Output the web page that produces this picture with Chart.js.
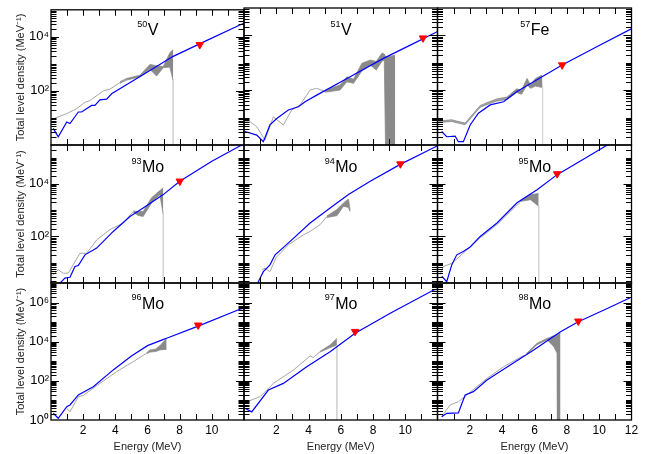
<!DOCTYPE html>
<html><head><meta charset="utf-8">
<script src="https://cdn.jsdelivr.net/npm/chart.js@4.4.1/dist/chart.umd.min.js"></script>
<style>
html,body{margin:0;padding:0;background:#fff;}
#wrap{position:relative;width:657px;height:454px;overflow:hidden;background:#fff;}
canvas{position:absolute;left:0;top:0;}
</style></head><body><div id="wrap"></div>
<script>
// ---------------- data (energies in MeV, densities in MeV^-1) ----------------
// 50V
const V50_modelE = [0.14, 0.45, 0.98, 1.18, 1.70, 1.90, 2.53, 2.73, 3.04, 3.46, 3.77, 5.1, 6.0, 7.6, 9.5, 11.74, 12];
const V50_model  = [4.1, 2.0, 7.1, 6.2, 16.6, 16.6, 29, 29, 47, 50, 78, 240, 500, 1900, 6500, 27500, 32000];
const V50_thinE  = [0.14, 0.98, 1.6, 2.11, 2.42, 3.25, 3.67, 4.29, 4.7];
const V50_thin   = [9.3, 14.5, 22, 38, 44, 100, 117, 204, 270];
const V50_bandE  = [4.29, 4.7, 5.53, 6.15, 6.56, 6.98, 7.39, 7.6];
const V50_bandHi = [219, 288, 380, 955, 851, 794, 2570, 3390];
const V50_bandLo = [191, 251, 331, 631, 355, 724, 759, 234];
const V50_sn     = [9.25, 5100];
// 51V
const V51_modelE = [0.06, 0.79, 1.2, 1.61, 2.03, 2.75, 3.37, 3.79, 4.51, 6.5, 8.65, 10.5, 11.97, 12];
const V51_model  = [3.1, 2.3, 1.32, 5.4, 9.3, 19, 25, 38, 66, 290, 1450, 5000, 13500, 13800];
const V51_thinE  = [0.06, 0.37, 0.79, 1.3, 1.82, 2.44, 2.96, 3.48, 4.1, 4.51, 5.03];
const V51_thin   = [7.1, 7.1, 4.7, 1.5, 10.7, 5.4, 19, 29, 102, 117, 89];
const V51_bandE  = [5.03, 5.34, 5.96, 6.38, 6.79, 7.31, 7.83, 8.2, 8.55, 8.7, 8.8, 9.38];
const V51_bandHi = [93, 117, 155, 309, 251, 955, 1260, 1120, 2240, 2100, 1600, 1900];
const V51_bandLo = [85, 89, 102, 204, 178, 501, 832, 550, 1120, 1260, 0.1, 0.1];
const V51_sn     = [11.1, 8000];
// 57Fe
const Fe57_modelE = [0.26, 0.57, 1.09, 1.29, 1.6, 2.02, 2.53, 3.26, 4.09, 4.92, 6.47, 7.71, 10, 12.06];
const Fe57_model  = [3.1, 2.0, 2.1, 1.32, 1.32, 5.4, 14.5, 29, 38, 89, 309, 832, 4270, 18200];
const Fe57_thinE  = [0.05, 0.88, 1.71, 2.64, 3.68, 4.3];
const Fe57_thin   = [7.1, 7.8, 5.9, 26, 44, 50];
const Fe57_bandE  = [0.05, 0.88, 1.71, 2.64, 3.2, 3.68, 4.3, 4.9, 5.2, 5.54, 5.75, 6.06, 6.47, 6.5];
const Fe57_bandHi = [7.6, 8.3, 6.3, 27.5, 38, 48, 56, 112, 100, 269, 158, 269, 355, 355];
const Fe57_bandLo = [6.6, 7.2, 5.5, 24, 32, 40, 46, 83, 71, 158, 117, 141, 126, 126];
const Fe57_sn     = [7.71, 830];
// 93Mo
const Mo93_modelE = [0.4, 0.56, 0.87, 1.18, 1.49, 1.70, 2.11, 2.84, 3.87, 4.91, 5.73, 6.98, 8.01, 10, 11.74, 12];
const Mo93_model  = [1.0, 1.7, 2.6, 2.8, 7.2, 7.9, 20, 36, 155, 575, 1200, 3900, 12600, 72000, 275000, 300000];
const Mo93_thinE  = [0.14, 0.45, 0.76, 1.07, 1.8, 2.22, 2.84, 3.66, 4.49, 5.11];
const Mo93_thin   = [3.5, 5.4, 4.0, 4.0, 23, 23, 74, 182, 324, 890];
const Mo93_bandE  = [5.11, 5.42, 5.73, 6.25, 6.77, 6.98];
const Mo93_bandHi = [933, 891, 891, 2950, 5600, 7100];
const Mo93_bandLo = [832, 631, 575, 1900, 3900, 676];
const Mo93_sn     = [8.01, 12600];
// 94Mo
const Mo94_modelE = [0.8, 0.89, 1.2, 1.61, 1.93, 2.86, 4.1, 5.34, 6.48, 7.83, 9.69, 11.97, 12];
const Mo94_model  = [1.26, 1.9, 4.6, 8.3, 20, 65, 324, 1200, 3900, 12600, 55000, 275000, 280000];
const Mo94_thinE  = [1.1, 1.3, 1.61, 2.0, 2.75, 3.68, 4.1, 4.72, 5.14];
const Mo94_thin   = [5.4, 6.2, 4.6, 16, 48, 115, 155, 282, 575];
const Mo94_bandE  = [5.14, 5.76, 6.17, 6.48, 6.58];
const Mo94_bandHi = [603, 1050, 1860, 2630, 1000];
const Mo94_bandLo = [525, 617, 1410, 1260, 891];
const Mo94_sn     = [9.7, 57000];
// 95Mo
const Mo95_modelE = [0.26, 0.57, 0.88, 1.19, 1.6, 2.02, 2.64, 3.68, 4.92, 6.16, 7.4, 9, 10.4, 12];
const Mo95_model  = [3.1, 1.9, 8.3, 20, 27, 40, 100, 324, 1900, 6000, 22400, 85000, 275000, 930000];
const Mo95_thinE  = [0.16, 0.36, 0.88, 1.2, 1.71, 2.64, 3.68, 4.5, 5.12];
const Mo95_thin   = [3.5, 7.2, 9.5, 14, 27, 89, 282, 891, 2000];
const Mo95_bandE  = [5.12, 5.75, 6.26];
const Mo95_bandHi = [2340, 3900, 4270];
const Mo95_bandLo = [2140, 2510, 1410];
const Mo95_sn     = [7.4, 24000];
// 96Mo
const Mo96_modelE = [0.14, 0.45, 0.98, 1.18, 1.7, 2.63, 3.87, 5.0, 6.0, 7.0, 7.19, 9.15, 11.74, 12];
const Mo96_model  = [2.2, 1.23, 4.8, 5.9, 19, 50, 363, 1860, 6300, 13200, 15100, 63000, 457000, 525000];
const Mo96_thinE  = [0.98, 1.18, 1.7, 2.0, 3.04, 4.08, 5.11, 5.94];
const Mo96_thin   = [4.0, 2.6, 15.5, 17.8, 74, 295, 955, 2570];
const Mo96_bandE  = [5.94, 6.15, 6.5, 6.77, 7.19];
const Mo96_bandHi = [2690, 3800, 4170, 6310, 14800];
const Mo96_bandLo = [2450, 2950, 3160, 3800, 4170];
const Mo96_sn     = [9.15, 70000];
// 97Mo
const Mo97_modelE = [0.06, 0.48, 1.51, 2.44, 3.89, 5.34, 6.89, 9.07, 11.76, 12];
const Mo97_model  = [4.0, 2.6, 34, 74, 525, 3090, 26900, 282000, 4370000, 4800000];
const Mo97_thinE  = [0.17, 1.0, 1.82, 3.06, 4.1, 4.3, 4.72];
const Mo97_thin   = [8.5, 15.5, 74, 355, 1860, 1580, 3090];
const Mo97_bandE  = [4.72, 5.34, 5.76];
const Mo97_bandHi = [3240, 6760, 14800];
const Mo97_bandLo = [2950, 5010, 6760];
const Mo97_sn     = [6.89, 33000];
// 98Mo
const Mo98_modelE = [0.26, 0.57, 1.29, 1.71, 2.22, 3.06, 4.5, 5.95, 7.61, 8.71, 10.5, 12.06];
const Mo98_model  = [1.48, 2.2, 2.3, 19, 28, 110, 646, 3800, 32400, 105000, 500000, 2000000];
const Mo98_thinE  = [0.26, 0.78, 1.29, 1.71, 3.06, 4.09, 5.33];
const Mo98_thin   = [1.48, 5.9, 8.5, 16, 135, 525, 2000];
const Mo98_bandE  = [5.5, 6.16, 6.78, 7.19, 7.4, 7.42, 7.61];
const Mo98_bandHi = [2510, 8300, 14800, 20000, 24000, 24500, 26900];
const Mo98_bandLo = [2240, 7080, 12600, 5620, 2570, 0.1, 0.1];
const Mo98_sn     = [8.71, 112000];

// axis ranges / tick labels
const ROW_YMIN = [1, 1.7, 1];
const ROW_YMAX = [1e5, 3e5, 1e7];
const ROW_YTICKS = [[100, 1e4], [100, 1e4], [1, 100, 1e4, 1e6]];
const COL_XTICKS = [[2, 4, 6, 8, 10], [2, 4, 6, 8, 10], [2, 4, 6, 8, 10, 12]];
const X_MIN = 0, X_MAX = 12;

const PANELS = [
  {mass:'50', sym:'V',  m:[V50_modelE,V50_model],  t:[V50_thinE,V50_thin],  b:[V50_bandE,V50_bandHi,V50_bandLo],  sn:V50_sn,  vline:true},
  {mass:'51', sym:'V',  m:[V51_modelE,V51_model],  t:[V51_thinE,V51_thin],  b:[V51_bandE,V51_bandHi,V51_bandLo],  sn:V51_sn,  vline:false},
  {mass:'57', sym:'Fe', m:[Fe57_modelE,Fe57_model],t:[Fe57_thinE,Fe57_thin],b:[Fe57_bandE,Fe57_bandHi,Fe57_bandLo],sn:Fe57_sn, vline:true},
  {mass:'93', sym:'Mo', m:[Mo93_modelE,Mo93_model],t:[Mo93_thinE,Mo93_thin],b:[Mo93_bandE,Mo93_bandHi,Mo93_bandLo],sn:Mo93_sn, vline:true},
  {mass:'94', sym:'Mo', m:[Mo94_modelE,Mo94_model],t:[Mo94_thinE,Mo94_thin],b:[Mo94_bandE,Mo94_bandHi,Mo94_bandLo],sn:Mo94_sn, vline:false},
  {mass:'95', sym:'Mo', m:[Mo95_modelE,Mo95_model],t:[Mo95_thinE,Mo95_thin],b:[Mo95_bandE,Mo95_bandHi,Mo95_bandLo],sn:Mo95_sn, vline:true},
  {mass:'96', sym:'Mo', m:[Mo96_modelE,Mo96_model],t:[Mo96_thinE,Mo96_thin],b:[Mo96_bandE,Mo96_bandHi,Mo96_bandLo],sn:Mo96_sn, vline:false},
  {mass:'97', sym:'Mo', m:[Mo97_modelE,Mo97_model],t:[Mo97_thinE,Mo97_thin],b:[Mo97_bandE,Mo97_bandHi,Mo97_bandLo],sn:Mo97_sn, vline:true},
  {mass:'98', sym:'Mo', m:[Mo98_modelE,Mo98_model],t:[Mo98_thinE,Mo98_thin],b:[Mo98_bandE,Mo98_bandHi,Mo98_bandLo],sn:Mo98_sn, vline:false},
];

// ---------------- layout & style ----------------
const W = 657, H = 454;
const X_EDGES = [51, 244, 437.5, 631.5];
const Y_EDGES = [8, 145, 283, 420];
const LABEL_BASE = [35, 172, 308.5];
const FONT = '"Liberation Sans", Arial, Helvetica, sans-serif';
Chart.defaults.font.family = FONT;
Chart.defaults.color = '#000';

const SUP = {'0':'⁰','1':'¹','2':'²','3':'³','4':'⁴','5':'⁵','6':'⁶','7':'⁷','8':'⁸','9':'⁹','-':'⁻'};
const sup = s => String(s).split('').map(ch => SUP[ch] || ch).join('');
const zip = (xs, ys) => xs.map((x, i) => ({x, y: ys[i]}));

const framePlugin = {
  id: 'frame',
  afterDraw(chart, args, opts) {
    const {ctx, chartArea: a} = chart;
    const x = chart.scales.x, y = chart.scales.y;
    ctx.save();
    ctx.strokeStyle = '#000';
    ctx.lineWidth = 1;
    ctx.beginPath();
    for (let v = X_MIN + 1; v < X_MAX; v++) {
      const px = Math.round(x.getPixelForValue(v)) + 0.5;
      ctx.moveTo(px, a.bottom); ctx.lineTo(px, a.bottom - 6);
      ctx.moveTo(px, a.top); ctx.lineTo(px, a.top + 6);
    }
    const lo = Math.floor(Math.log10(y.min)), hi = Math.ceil(Math.log10(y.max));
    for (let n = lo; n <= hi; n++) {
      for (let m = 1; m <= 9; m++) {
        const v = m * Math.pow(10, n);
        if (v <= y.min * 1.001 || v >= y.max * 0.999) continue;
        const py = Math.round(y.getPixelForValue(v)) + 0.5;
        const len = (m === 1 && n % 2 === 0) ? 8 : 5.5;
        ctx.moveTo(a.left, py); ctx.lineTo(a.left + len, py);
        ctx.moveTo(a.right, py); ctx.lineTo(a.right - len, py);
      }
    }
    ctx.stroke();
    ctx.lineWidth = 1.3;
    ctx.strokeRect(a.left, a.top, a.right - a.left, a.bottom - a.top);
    // nucleus label
    ctx.fillStyle = '#000';
    ctx.textAlign = 'left';
    ctx.textBaseline = 'alphabetic';
    ctx.font = '9px ' + FONT;
    const ws = ctx.measureText(opts.mass).width;
    ctx.font = '16px ' + FONT;
    const wm = ctx.measureText(opts.sym).width;
    const x0 = (a.left + a.right) / 2 - (ws + wm) / 2;
    ctx.font = '9px ' + FONT;
    ctx.fillText(opts.mass, x0, opts.base - 8.5);
    ctx.font = '16px ' + FONT;
    ctx.fillText(opts.sym, x0 + ws + 0.5, opts.base);
    ctx.restore();
  }
};

const wrap = document.getElementById('wrap');
PANELS.forEach((P, i) => {
  const r = Math.floor(i / 3), c = i % 3;
  const cv = document.createElement('canvas');
  cv.width = W; cv.height = H;
  cv.style.width = W + 'px'; cv.style.height = H + 'px';
  wrap.appendChild(cv);
  const ymin = ROW_YMIN[r], ymax = ROW_YMAX[r];
  const [bE, bHi, bLo] = P.b;
  const datasets = [
    {data: [{x: P.sn[0], y: P.sn[1]}], showLine: false, pointStyle: 'triangle', rotation: 180,
     pointRadius: 4.3, backgroundColor: '#ff0000', borderColor: '#ff0000', borderWidth: 1},
    {data: zip(P.m[0], P.m[1]), borderColor: '#0000ff', borderWidth: 1.2, pointRadius: 0, fill: false},
    {data: zip(P.t[0], P.t[1]), borderColor: '#a6a6a6', borderWidth: 1, pointRadius: 0, fill: false},
  ];
  if (P.vline) {
    const e = bE[bE.length - 1], v = bLo[bLo.length - 1];
    datasets.push({data: [{x: e, y: v}, {x: e, y: ymin * 0.5}], borderColor: '#d4d4d4', borderWidth: 1, pointRadius: 0, fill: false});
  }
  datasets.push({data: zip(bE, bHi), borderColor: '#8a8a8a', borderWidth: 0.8, pointRadius: 0, fill: '+1', backgroundColor: '#8a8a8a'});
  datasets.push({data: zip(bE, bLo), borderColor: '#8a8a8a', borderWidth: 0.8, pointRadius: 0, fill: false});

  const showX = r === 2, showY = c === 0;
  new Chart(cv, {
    type: 'line',
    data: {datasets},
    plugins: [framePlugin],
    options: {
      responsive: false, animation: false, devicePixelRatio: 1,
      events: [],
      layout: {
        autoPadding: false,
        padding: {
          left: showY ? 0 : X_EDGES[c],
          right: W - X_EDGES[c + 1],
          top: Y_EDGES[r],
          bottom: showX ? 0 : H - Y_EDGES[r + 1]
        }
      },
      plugins: {legend: {display: false}, tooltip: {enabled: false},
                frame: {mass: P.mass, sym: P.sym, base: LABEL_BASE[r]}},
      scales: {
        x: {
          type: 'linear', min: X_MIN, max: X_MAX, display: showX,
          grid: {display: false, drawTicks: false}, border: {display: false},
          afterBuildTicks: s => { s.ticks = COL_XTICKS[c].map(v => ({value: v})); },
          afterFit: s => { s.height = showX ? H - Y_EDGES[3] : 0; },
          ticks: {padding: 3, font: {size: 12}, color: '#000', maxRotation: 0, autoSkip: false},
          title: {display: true, text: 'Energy (MeV)', font: {size: 11}, color: '#222', padding: {top: 0, bottom: 0}}
        },
        y: {
          type: 'logarithmic', min: ymin, max: ymax, display: showY,
          grid: {display: false, drawTicks: false}, border: {display: false},
          afterBuildTicks: s => { s.ticks = ROW_YTICKS[r].map(v => ({value: v})); },
          afterFit: s => { s.width = showY ? X_EDGES[0] : 0; },
          ticks: {padding: 2, font: {size: 13}, color: '#000', autoSkip: false,
                  callback: v => '10' + sup(Math.round(Math.log10(v)))},
          title: {display: true, text: 'Total level density (MeV' + sup('-1') + ')', font: {size: 11}, color: '#222', padding: {top: 14.5, bottom: 0}}
        }
      }
    }
  });
});
</script></body></html>
